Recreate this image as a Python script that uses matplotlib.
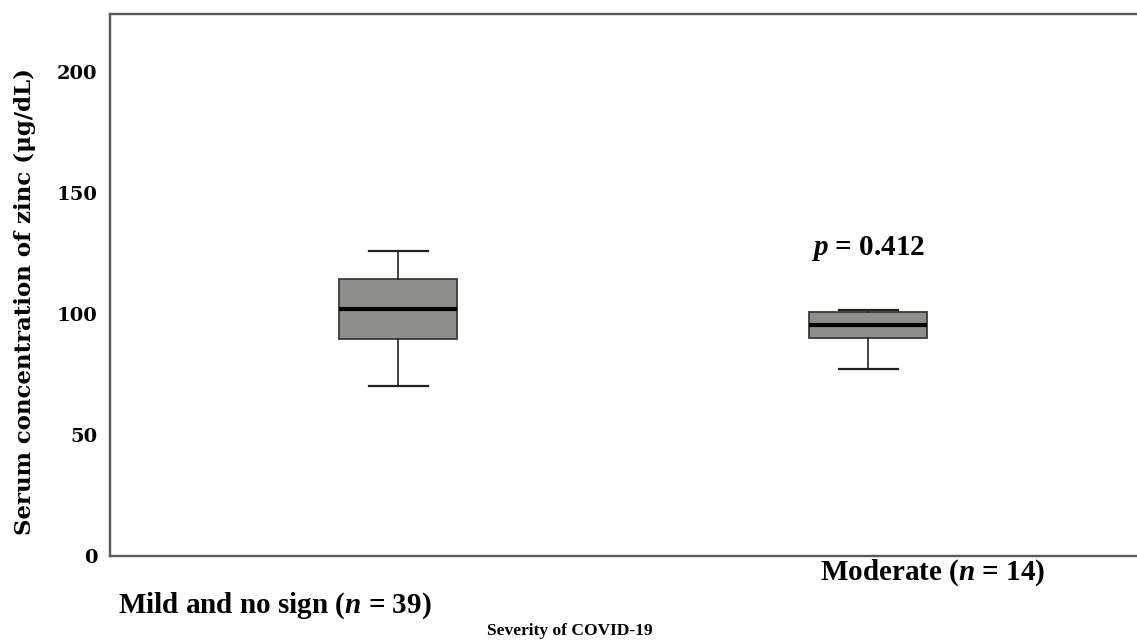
import matplotlib.pyplot as plt

# values (ug/dL)
groups = ['Mild and no sign', 'Moderate']
n_vals = [39, 14]
whis_low = [70.2, 77.3]
q1 = [89.8, 90.2]
median = [102.2, 95.6]
q3 = [114.5, 100.8]
whis_high = [126.0, 101.6]
p_value = 0.412

plt.rcParams['font.family'] = ['Liberation Serif', 'DejaVu Serif']
plt.rcParams['font.weight'] = 'bold'
plt.rcParams['mathtext.fontset'] = 'custom'
plt.rcParams['mathtext.bfit'] = 'Liberation Serif:italic:bold'
plt.rcParams['mathtext.it'] = 'Liberation Serif:italic'
plt.rcParams['mathtext.rm'] = 'Liberation Serif:bold'

fig = plt.figure(figsize=(11.37, 6.44), dpi=100)
ax = fig.add_axes([110/1137, (644-556)/644, 1.0 - 110/1137 + 0.01, (556-14)/644])

stats = []
for i in range(len(groups)):
    stats.append({'med': median[i], 'q1': q1[i], 'q3': q3[i],
                  'whislo': whis_low[i], 'whishi': whis_high[i], 'fliers': []})

ax.bxp(stats, positions=[1, 2], widths=0.25, patch_artist=True, showfliers=False,
       boxprops=dict(facecolor='#8e8e8a', edgecolor='#3a3a3a', linewidth=1.3),
       medianprops=dict(color='black', linewidth=3),
       whiskerprops=dict(color='#222222', linewidth=1.2),
       capprops=dict(color='#222222', linewidth=1.6))

ax.set_xlim(0.387, 2.596)
ax.set_ylim(0, 224)
ax.set_yticks([0, 50, 100, 150, 200])
ax.set_yticklabels(['0', '50', '100', '150', '200'], fontsize=14, fontweight='bold', family='DejaVu Serif')
ax.tick_params(axis='y', length=0, pad=9)
ax.set_xticks([])
for s in ['left', 'top', 'bottom']:
    ax.spines[s].set_color('#5a5a5a')
    ax.spines[s].set_linewidth(1.7)
ax.spines['right'].set_visible(False)

fig.text(25/1137, 1 - 302/644, 'Serum concentration of zinc (μg/dL)', rotation=90,
         ha='center', va='center', fontsize=16.5, fontweight='bold', family='DejaVu Serif')

# group labels below the axis
ax.text(0.737, -0.091, groups[0] + ' ($\\mathbfit{n}$ = %d)' % n_vals[0], transform=ax.get_xaxis_transform(),
        ha='center', va='center', fontsize=21, fontweight='bold')
ax.text(2.136, -0.031, groups[1] + ' ($\\mathbfit{n}$ = %d)' % n_vals[1], transform=ax.get_xaxis_transform(),
        ha='center', va='center', fontsize=21, fontweight='bold')
fig.text(570/1137, 1 - 631/644, 'Severity of COVID-19', ha='center', va='center', fontsize=12.5, fontweight='bold')

ax.text(2.0, 127, '$\\mathbfit{p}$ = %.3f' % p_value, ha='center', va='center', fontsize=21, fontweight='bold')

fig.savefig('out.png', dpi=100)
